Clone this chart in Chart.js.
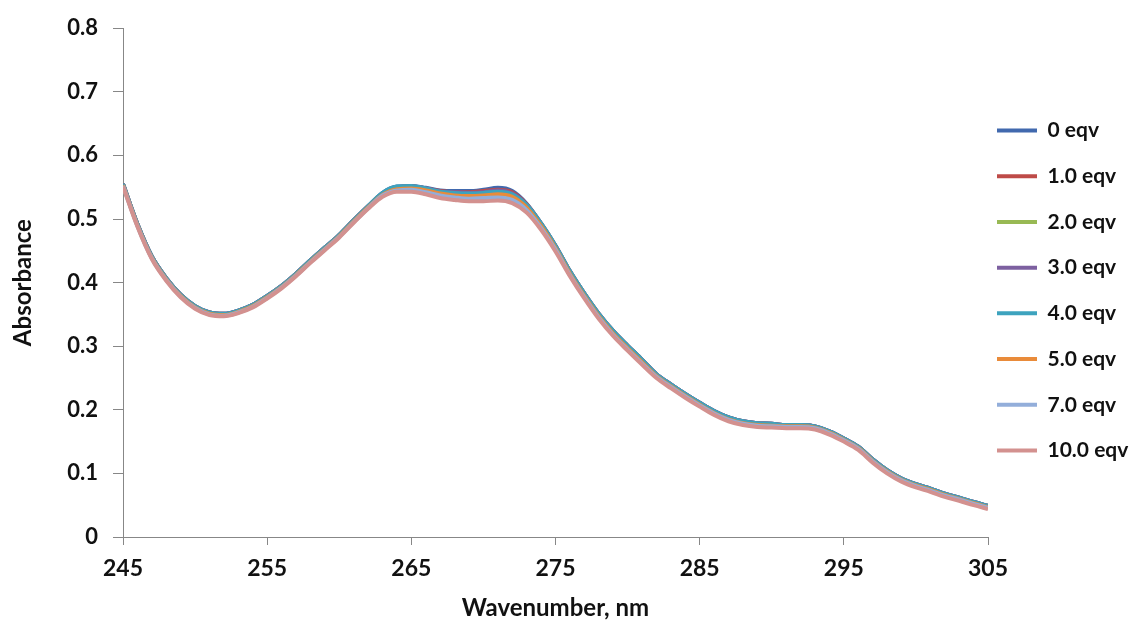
<!DOCTYPE html>
<html>
<head>
<meta charset="utf-8">
<title>Absorbance spectra</title>
<script src="https://cdn.jsdelivr.net/npm/chart.js@4.4.1/dist/chart.umd.min.js"></script>
<style>
  html, body { margin: 0; padding: 0; background: #ffffff; }
  canvas { display: block; }
</style>
</head>
<body>
<canvas id="spectra" width="1145" height="625"></canvas>
<script>
// Wavelength grid, nm
const wavelengths = [
  245, 246, 247, 248, 249, 250, 251, 252, 253, 254,
  255, 256, 257, 258, 259, 260, 261, 262, 263, 264,
  265, 266, 267, 268, 269, 270, 271, 272, 273, 274,
  275, 276, 277, 278, 279, 280, 281, 282, 283, 284,
  285, 286, 287, 288, 289, 290, 291, 292, 293, 294,
  295, 296, 297, 298, 299, 300, 301, 302, 303, 304, 305
];

// Absorbance for each titration point
const eqv0 = [
  0.555, 0.492, 0.441, 0.407, 0.381, 0.363, 0.353, 0.351, 0.356, 0.365,
  0.379, 0.395, 0.414, 0.435, 0.455, 0.475, 0.498, 0.520, 0.541, 0.551,
  0.552, 0.549, 0.545, 0.544, 0.544, 0.546, 0.549, 0.544, 0.524, 0.493,
  0.458, 0.418, 0.383, 0.351, 0.324, 0.301, 0.279, 0.256, 0.240, 0.225,
  0.211, 0.198, 0.188, 0.182, 0.179, 0.178, 0.176, 0.176, 0.174, 0.166,
  0.155, 0.142, 0.122, 0.105, 0.092, 0.083, 0.076, 0.068, 0.062, 0.055, 0.049
];
const eqv1 = [
  0.555, 0.492, 0.441, 0.407, 0.381, 0.363, 0.353, 0.351, 0.356, 0.365,
  0.379, 0.395, 0.414, 0.435, 0.455, 0.475, 0.498, 0.520, 0.540, 0.550,
  0.551, 0.548, 0.544, 0.542, 0.542, 0.544, 0.546, 0.542, 0.523, 0.493,
  0.458, 0.418, 0.383, 0.351, 0.324, 0.301, 0.279, 0.256, 0.240, 0.225,
  0.211, 0.198, 0.188, 0.182, 0.179, 0.178, 0.176, 0.176, 0.174, 0.166,
  0.155, 0.142, 0.122, 0.105, 0.092, 0.083, 0.076, 0.068, 0.062, 0.055, 0.049
];
const eqv2 = [
  0.554, 0.491, 0.440, 0.406, 0.380, 0.362, 0.352, 0.350, 0.355, 0.364,
  0.378, 0.394, 0.413, 0.434, 0.454, 0.474, 0.497, 0.519, 0.539, 0.548,
  0.549, 0.546, 0.541, 0.539, 0.538, 0.539, 0.541, 0.537, 0.520, 0.491,
  0.456, 0.416, 0.381, 0.349, 0.322, 0.299, 0.277, 0.255, 0.239, 0.224,
  0.210, 0.197, 0.187, 0.181, 0.178, 0.177, 0.175, 0.175, 0.173, 0.165,
  0.154, 0.141, 0.121, 0.104, 0.091, 0.082, 0.075, 0.067, 0.061, 0.054, 0.048
];
const eqv3 = [
  0.555, 0.492, 0.441, 0.407, 0.381, 0.363, 0.353, 0.351, 0.356, 0.365,
  0.379, 0.395, 0.414, 0.435, 0.455, 0.475, 0.498, 0.520, 0.540, 0.550,
  0.551, 0.548, 0.543, 0.542, 0.541, 0.542, 0.545, 0.540, 0.522, 0.492,
  0.457, 0.417, 0.382, 0.350, 0.323, 0.300, 0.278, 0.256, 0.240, 0.225,
  0.211, 0.198, 0.188, 0.182, 0.179, 0.178, 0.176, 0.176, 0.174, 0.166,
  0.155, 0.142, 0.122, 0.105, 0.092, 0.083, 0.076, 0.068, 0.062, 0.055, 0.049
];
const eqv4 = [
  0.555, 0.492, 0.441, 0.407, 0.381, 0.363, 0.353, 0.351, 0.356, 0.365,
  0.379, 0.395, 0.414, 0.435, 0.455, 0.475, 0.498, 0.520, 0.541, 0.551,
  0.552, 0.548, 0.543, 0.541, 0.540, 0.541, 0.543, 0.539, 0.522, 0.493,
  0.458, 0.418, 0.383, 0.351, 0.324, 0.301, 0.279, 0.256, 0.240, 0.225,
  0.211, 0.198, 0.188, 0.182, 0.179, 0.178, 0.176, 0.176, 0.174, 0.166,
  0.155, 0.142, 0.122, 0.105, 0.092, 0.083, 0.076, 0.068, 0.062, 0.055, 0.049
];
const eqv5 = [
  0.553, 0.490, 0.439, 0.405, 0.379, 0.361, 0.351, 0.349, 0.354, 0.363,
  0.377, 0.393, 0.412, 0.433, 0.453, 0.473, 0.496, 0.518, 0.538, 0.547,
  0.548, 0.545, 0.540, 0.537, 0.536, 0.537, 0.539, 0.535, 0.518, 0.489,
  0.454, 0.414, 0.379, 0.347, 0.320, 0.297, 0.275, 0.253, 0.237, 0.222,
  0.208, 0.195, 0.185, 0.179, 0.176, 0.175, 0.174, 0.174, 0.172, 0.164,
  0.153, 0.140, 0.120, 0.103, 0.090, 0.081, 0.074, 0.066, 0.060, 0.053, 0.047
];
const eqv7 = [
  0.552, 0.489, 0.438, 0.404, 0.378, 0.360, 0.350, 0.348, 0.353, 0.362,
  0.376, 0.392, 0.411, 0.432, 0.452, 0.472, 0.495, 0.517, 0.537, 0.545,
  0.546, 0.542, 0.537, 0.534, 0.532, 0.533, 0.534, 0.530, 0.514, 0.486,
  0.452, 0.412, 0.377, 0.345, 0.318, 0.295, 0.273, 0.252, 0.236, 0.221,
  0.207, 0.194, 0.184, 0.178, 0.175, 0.174, 0.173, 0.173, 0.171, 0.163,
  0.152, 0.139, 0.119, 0.102, 0.089, 0.080, 0.073, 0.065, 0.059, 0.052, 0.046
];
const eqv10 = [
  0.551, 0.488, 0.437, 0.403, 0.377, 0.359, 0.349, 0.347, 0.352, 0.361,
  0.375, 0.391, 0.410, 0.431, 0.451, 0.471, 0.494, 0.516, 0.535, 0.543,
  0.543, 0.539, 0.533, 0.530, 0.528, 0.528, 0.529, 0.525, 0.510, 0.483,
  0.449, 0.410, 0.375, 0.343, 0.316, 0.293, 0.271, 0.250, 0.234, 0.219,
  0.205, 0.192, 0.182, 0.176, 0.173, 0.172, 0.171, 0.171, 0.169, 0.161,
  0.150, 0.137, 0.117, 0.100, 0.087, 0.078, 0.071, 0.063, 0.057, 0.050, 0.044
];

const seriesNames = ['0 eqv', '1.0 eqv', '2.0 eqv', '3.0 eqv', '4.0 eqv', '5.0 eqv', '7.0 eqv', '10.0 eqv'];
const seriesColors = ['#4169AE', '#BE4B48', '#98B954', '#7D60A0', '#3DA3BE', '#E98B3A', '#93AEDA', '#D3918F'];
const seriesValues = [eqv0, eqv1, eqv2, eqv3, eqv4, eqv5, eqv7, eqv10];

// Axis ticks
const xTickValues = [245, 255, 265, 275, 285, 295, 305];
const yTickValues = [0, 0.1, 0.2, 0.3, 0.4, 0.5, 0.6, 0.7, 0.8];
const yTickLabels = ['0', '0.1', '0.2', '0.3', '0.4', '0.5', '0.6', '0.7', '0.8'];

const FONT = 'Lato, "Open Sans", "DejaVu Sans", sans-serif';
const TEXT = '#111111';
const AXIS_GREY = '#878787';

const datasets = seriesValues.map((vals, i) => ({
  label: seriesNames[i],
  data: wavelengths.map((w, k) => ({ x: w, y: vals[k] })),
  borderColor: seriesColors[i],
  backgroundColor: seriesColors[i],
  borderWidth: 4,
  pointRadius: 0,
  pointHoverRadius: 0,
  cubicInterpolationMode: 'monotone',
  fill: false,
  // later titration points are painted over the earlier ones
  order: seriesValues.length - i
}));

// Nudges the legend column next to the plot area
const legendPlacement = {
  id: 'legendPlacement',
  afterLayout(chart) {
    const lg = chart.legend;
    if (!lg) return;
    const dx = -15.7, dy = -34.5;
    lg.left += dx; lg.right += dx;
    lg.top += dy; lg.bottom += dy;
  }
};

new Chart(document.getElementById('spectra'), {
  type: 'line',
  data: { datasets },
  plugins: [legendPlacement],
  options: {
    responsive: false,
    animation: false,
    events: [],
    layout: { padding: { top: 25, right: 0, bottom: 0, left: 0 } },
    scales: {
      x: {
        type: 'linear',
        min: 245,
        max: 305,
        afterBuildTicks(scale) { scale.ticks = xTickValues.map(v => ({ value: v })); },
        afterFit(scale) { scale.height = 88; },
        ticks: {
          autoSkip: false,
          maxRotation: 0,
          padding: 10,
          color: TEXT,
          font: { family: FONT, size: 23, weight: 'bold' },
          callback: v => String(v)
        },
        grid: { drawOnChartArea: false, drawTicks: true, tickLength: 8, color: AXIS_GREY, lineWidth: 1 },
        border: { display: true, color: AXIS_GREY, width: 1 },
        title: {
          display: true,
          text: 'Wavenumber, nm',
          color: TEXT,
          font: { family: FONT, size: 24, weight: 'bold' },
          padding: { top: 0, bottom: 2 }
        }
      },
      y: {
        min: 0,
        max: 0.8,
        afterBuildTicks(scale) { scale.ticks = yTickValues.map(v => ({ value: v })); },
        afterFit(scale) { scale.width = 123; },
        ticks: {
          padding: 15,
          color: TEXT,
          font: { family: FONT, size: 22, weight: 'bold' },
          callback: (v, i) => yTickLabels[i]
        },
        grid: { drawOnChartArea: false, drawTicks: true, tickLength: 10, color: AXIS_GREY, lineWidth: 1 },
        border: { display: true, color: AXIS_GREY, width: 1 },
        title: {
          display: true,
          text: 'Absorbance',
          color: TEXT,
          font: { family: FONT, size: 24, weight: 'bold' },
          padding: { top: 9, bottom: 0 }
        }
      }
    },
    plugins: {
      tooltip: { enabled: false },
      legend: {
        position: 'right',
        maxWidth: 157,
        labels: {
          usePointStyle: true,
          pointStyle: 'line',
          pointStyleWidth: 40,
          padding: 24.7,
          color: TEXT,
          font: { family: FONT, size: 21, weight: 'bold' },
          sort: (a, b) => a.datasetIndex - b.datasetIndex
        }
      }
    }
  }
});
</script>
</body>
</html>
